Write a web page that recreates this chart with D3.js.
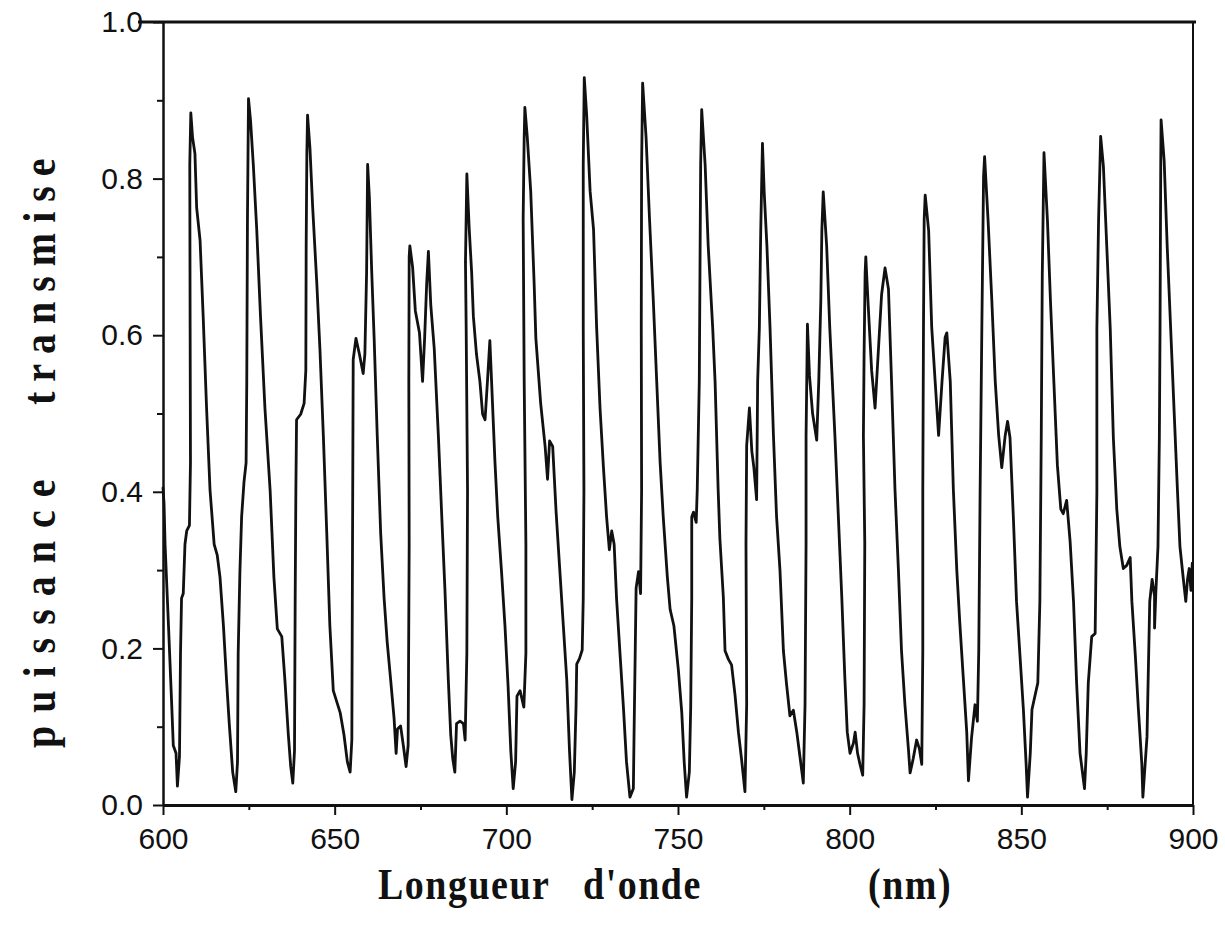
<!DOCTYPE html>
<html>
<head>
<meta charset="utf-8">
<script src="https://cdn.jsdelivr.net/npm/d3@7"></script>
<style>
  body { margin: 0; background: #fff; }
  .axis text { font-family: "Liberation Sans", Arial, sans-serif; font-size: 30px; fill: #111; }
  .title { font-family: "Liberation Serif", "Times New Roman", serif; font-weight: bold; fill: #111; }
</style>
</head>
<body>
<svg width="1225" height="926"></svg>
<script>
// spectre : longueur d'onde (nm) / puissance transmise
const wavelength = [
  600.0, 600.3, 600.6, 601.6, 602.5, 603.0, 603.8, 604.2, 604.8, 605.1, 605.4, 605.9, 606.4, 606.9, 607.7, 608.0, 607.9, 607.8, 608.1, 608.6,
  609.3, 609.8, 610.8, 611.7, 612.7, 613.7, 614.9, 615.8, 616.6, 617.6, 618.5, 619.3, 620.3, 621.2,
  621.7, 621.9, 622.4, 622.9, 623.6, 624.2, 624.4, 624.6, 624.9, 625.5, 626.3, 627.3, 628.4, 629.7, 631.2, 632.3, 633.3, 634.6, 635.5, 636.5, 637.2, 637.8,
  638.3, 638.5, 638.7, 638.9, 640.1, 641.1, 641.6, 641.7, 641.9, 642.1, 642.8, 643.6, 644.8, 645.7, 646.7, 647.7, 648.6, 649.6, 650.6, 651.6, 652.7, 653.7, 654.5,
  655.0, 655.2, 655.4, 656.2, 657.2, 658.3, 658.8, 659.3, 659.6, 660.1, 660.8, 661.5, 662.4, 663.4, 664.4, 665.3, 666.3, 667.3, 667.9, 668.3, 669.2, 670.0, 670.8,
  671.4, 671.7, 671.6, 671.7, 671.9, 672.7, 673.5, 674.7, 675.6, 676.2, 676.8, 677.3, 678.0, 679.0, 680.2, 681.2, 682.1, 683.1, 683.8, 684.4, 685.0,
  685.5, 686.5, 687.5, 688.0, 688.5, 688.7, 688.3, 688.1, 688.5, 689.2, 689.9, 690.4, 691.3, 692.3, 693.1, 693.8, 694.5, 695.2, 695.7, 696.7, 697.5, 698.6, 699.6, 700.5, 701.3, 702.0,
  702.7, 703.1, 704.0, 705.1, 705.7, 705.7, 705.2, 704.9, 705.2, 705.4, 706.1, 707.1, 708.1, 708.6, 710.0, 711.3, 712.0, 712.6, 713.5, 714.5, 715.6, 716.6, 717.6, 718.4, 719.1,
  719.8, 720.3, 720.5, 721.3, 722.1, 722.4, 722.6, 722.4, 722.4, 722.7, 723.4, 724.4, 725.4, 726.3, 727.3, 728.3, 729.2, 730.0, 730.7, 731.4, 732.1, 733.1, 734.1, 735.0, 736.0,
  737.0, 737.2, 737.8, 738.5, 739.1, 739.4, 739.3, 739.4, 739.7, 740.7, 741.7, 742.8, 743.8, 744.8, 745.7, 746.9, 747.7, 748.8, 750.1, 751.1, 751.8, 752.5,
  753.3, 753.7, 754.0, 754.0, 754.5, 755.3, 755.6, 756.2, 756.4, 756.6, 756.9, 757.9, 758.8, 760.1, 760.8, 761.7, 762.2, 763.2, 763.7, 764.7, 765.6, 766.6, 767.6, 768.5, 769.5,
  770.0, 769.8, 770.0, 770.8, 771.5, 772.1, 772.9, 773.2, 773.7, 774.1, 774.6, 775.1, 775.9, 776.8, 777.8, 778.7, 779.7, 780.7, 781.6, 782.6, 783.6, 784.6, 785.6, 786.5,
  787.0, 787.3, 787.3, 787.5, 787.7, 788.3, 789.2, 790.4, 791.0, 791.6, 791.9, 792.3, 793.3, 794.2, 795.7, 796.7, 797.7, 798.6, 799.3, 800.1, 801.1, 801.6, 802.3, 803.0, 803.8,
  804.2, 804.4, 804.0, 804.2, 804.5, 804.7, 805.4, 806.4, 807.4, 808.3, 809.3, 810.3, 811.3, 812.2, 813.2, 814.2, 815.1, 816.1, 817.1, 817.6, 818.5, 819.5, 820.3, 821.0,
  821.3, 821.3, 821.5, 821.7, 822.0, 823.0, 823.9, 824.9, 825.9, 826.9, 827.8, 828.3, 829.3, 830.2, 831.2, 832.1, 833.1, 834.1, 834.6,
  835.5, 836.5, 837.2, 837.6, 838.0, 838.5, 839.0, 839.3, 840.3, 841.4, 842.4, 843.4, 844.3, 845.3, 846.0, 846.7, 847.7, 848.6, 849.6, 850.6, 851.4, 851.8,
  852.6, 853.1, 854.1, 854.8, 855.4, 855.8, 856.1, 856.6, 857.6, 858.5, 859.5, 860.5, 861.5, 862.2, 863.2, 864.2, 865.2, 866.1, 867.1, 868.4,
  868.9, 869.5, 870.5, 871.5, 872.0, 872.0, 872.5, 873.1, 873.9, 874.9, 875.9, 876.8, 877.8, 878.7, 879.7, 880.7, 881.7, 882.2, 883.2, 884.1, 885.1, 885.4,
  886.6, 887.4, 888.1, 888.8, 888.8, 889.2, 889.8, 890.2, 890.4, 890.6, 890.7, 891.6, 892.5, 893.5, 894.5, 895.5, 896.2, 897.2, 897.9, 898.4, 898.9, 899.4, 899.8
];
const transmission = [
  0.405, 0.385, 0.333, 0.229, 0.132, 0.076, 0.066, 0.024, 0.062, 0.194, 0.264, 0.270, 0.333, 0.350, 0.357, 0.437, 0.610, 0.818, 0.884, 0.853,
  0.832, 0.763, 0.721, 0.624, 0.506, 0.402, 0.333, 0.319, 0.291, 0.229, 0.160, 0.104, 0.042, 0.017,
  0.055, 0.194, 0.298, 0.368, 0.413, 0.437, 0.541, 0.749, 0.902, 0.874, 0.818, 0.735, 0.624, 0.506, 0.402, 0.291, 0.225, 0.215, 0.160, 0.090, 0.049, 0.028,
  0.069, 0.264, 0.402, 0.492, 0.499, 0.513, 0.555, 0.714, 0.832, 0.881, 0.839, 0.763, 0.666, 0.583, 0.472, 0.347, 0.229, 0.146, 0.132, 0.118, 0.090, 0.055, 0.042,
  0.083, 0.333, 0.569, 0.596, 0.576, 0.551, 0.576, 0.680, 0.818, 0.777, 0.680, 0.596, 0.472, 0.347, 0.264, 0.208, 0.160, 0.111, 0.066, 0.097, 0.101, 0.076, 0.049,
  0.076, 0.333, 0.541, 0.700, 0.714, 0.687, 0.631, 0.603, 0.541, 0.596, 0.666, 0.707, 0.638, 0.583, 0.472, 0.368, 0.277, 0.160, 0.090, 0.059, 0.042,
  0.104, 0.107, 0.104, 0.083, 0.194, 0.402, 0.610, 0.693, 0.806, 0.735, 0.680, 0.624, 0.576, 0.541, 0.499, 0.492, 0.541, 0.593, 0.541, 0.437, 0.368, 0.298, 0.229, 0.153, 0.069, 0.021,
  0.055, 0.139, 0.146, 0.125, 0.194, 0.333, 0.541, 0.749, 0.853, 0.891, 0.853, 0.784, 0.666, 0.596, 0.513, 0.458, 0.416, 0.465, 0.458, 0.374, 0.298, 0.229, 0.160, 0.069, 0.007,
  0.042, 0.125, 0.180, 0.187, 0.198, 0.264, 0.402, 0.610, 0.818, 0.929, 0.881, 0.784, 0.735, 0.610, 0.506, 0.430, 0.368, 0.326, 0.350, 0.333, 0.264, 0.194, 0.125, 0.055, 0.010,
  0.021, 0.090, 0.277, 0.298, 0.270, 0.402, 0.610, 0.818, 0.922, 0.853, 0.749, 0.645, 0.541, 0.437, 0.368, 0.291, 0.250, 0.229, 0.173, 0.118, 0.055, 0.010,
  0.042, 0.125, 0.264, 0.368, 0.374, 0.361, 0.402, 0.541, 0.680, 0.818, 0.888, 0.818, 0.714, 0.610, 0.541, 0.402, 0.340, 0.266, 0.197, 0.186, 0.179, 0.141, 0.093, 0.059, 0.017,
  0.128, 0.334, 0.459, 0.507, 0.452, 0.431, 0.390, 0.541, 0.610, 0.734, 0.845, 0.783, 0.714, 0.610, 0.472, 0.369, 0.300, 0.197, 0.155, 0.114, 0.121, 0.093, 0.059, 0.028,
  0.128, 0.334, 0.472, 0.541, 0.614, 0.548, 0.500, 0.466, 0.541, 0.645, 0.734, 0.783, 0.714, 0.610, 0.472, 0.369, 0.266, 0.162, 0.093, 0.066, 0.079, 0.093, 0.066, 0.052, 0.038,
  0.128, 0.334, 0.472, 0.576, 0.679, 0.700, 0.638, 0.555, 0.507, 0.576, 0.652, 0.686, 0.659, 0.541, 0.403, 0.300, 0.197, 0.128, 0.072, 0.041, 0.059, 0.083, 0.072, 0.052,
  0.197, 0.403, 0.610, 0.748, 0.779, 0.734, 0.610, 0.541, 0.472, 0.541, 0.597, 0.603, 0.541, 0.403, 0.300, 0.231, 0.162, 0.093, 0.031,
  0.086, 0.128, 0.107, 0.197, 0.403, 0.610, 0.803, 0.828, 0.748, 0.645, 0.541, 0.472, 0.431, 0.472, 0.490, 0.469, 0.365, 0.260, 0.191, 0.122, 0.052, 0.010,
  0.066, 0.122, 0.142, 0.156, 0.260, 0.469, 0.677, 0.833, 0.747, 0.642, 0.538, 0.434, 0.378, 0.372, 0.389, 0.337, 0.260, 0.156, 0.066, 0.021,
  0.066, 0.156, 0.215, 0.219, 0.399, 0.608, 0.747, 0.854, 0.816, 0.712, 0.608, 0.469, 0.378, 0.330, 0.302, 0.306, 0.316, 0.260, 0.191, 0.122, 0.052, 0.010,
  0.087, 0.260, 0.288, 0.267, 0.226, 0.274, 0.330, 0.469, 0.608, 0.816, 0.875, 0.823, 0.712, 0.608, 0.503, 0.399, 0.330, 0.288, 0.260, 0.288, 0.302, 0.274, 0.309
];

const xTicks = [600, 650, 700, 750, 800, 850, 900];
const xMinorTicks = [625, 675, 725, 775, 825, 875];
const yTicks = [0, 0.2, 0.4, 0.6, 0.8, 1.0];
const yMinorTicks = [0.1, 0.3, 0.5, 0.7, 0.9];

const svg = d3.select("svg");

let xScale = d3.scaleLinear().domain([600, 900]).range([163, 1193]);
let yScale = d3.scaleLinear().domain([0, 1]).range([805, 22]);

let points = wavelength.map((w, i) => [w, transmission[i]]);

// cadre : haut et droite
svg.append("line")
  .attr("x1", 138).attr("x2", xScale(900) + 3)
  .attr("y1", yScale(1)).attr("y2", yScale(1))
  .attr("stroke", "#111").attr("stroke-width", 3);
svg.append("line")
  .attr("x1", xScale(900)).attr("x2", xScale(900))
  .attr("y1", yScale(1)).attr("y2", yScale(0))
  .attr("stroke", "#111").attr("stroke-width", 2);

// minor ticks first
svg.append("g")
  .attr("transform", `translate(0,${yScale(0)})`)
  .call(d3.axisBottom(xScale).tickValues(xMinorTicks).tickSize(5).tickFormat(""))
  .call(g => g.select(".domain").remove())
  .selectAll("line").attr("stroke", "#111").attr("stroke-width", 2);
svg.append("g")
  .attr("transform", `translate(${xScale(600)},0)`)
  .call(d3.axisLeft(yScale).tickValues(yMinorTicks).tickSize(6).tickFormat(""))
  .call(g => g.select(".domain").remove())
  .selectAll("line").attr("stroke", "#111").attr("stroke-width", 2);

let xAxis = svg.append("g")
  .attr("class", "axis")
  .attr("transform", `translate(0,${yScale(0)})`)
  .call(d3.axisBottom(xScale).tickValues(xTicks).tickSize(10).tickPadding(13).tickSizeOuter(0));
xAxis.select(".domain").attr("stroke", "#111").attr("stroke-width", 3);
xAxis.selectAll("line").attr("stroke", "#111").attr("stroke-width", 2);

let yAxis = svg.append("g")
  .attr("class", "axis")
  .attr("transform", `translate(${xScale(600)},0)`)
  .call(d3.axisLeft(yScale).tickValues(yTicks).tickSize(10).tickPadding(10)
    .tickSizeOuter(0).tickFormat(d3.format(".1f")));
yAxis.select(".domain").attr("stroke", "#111").attr("stroke-width", 2.5);
yAxis.selectAll("line").attr("stroke", "#111").attr("stroke-width", 2);

// courbe
let line = d3.line()
  .x(d => xScale(d[0]))
  .y(d => yScale(d[1]));

svg.append("path")
  .datum(points)
  .attr("d", line)
  .attr("fill", "none")
  .attr("stroke", "#111")
  .attr("stroke-width", 2.8)
  .attr("stroke-linejoin", "round")
  .attr("stroke-linecap", "round");

// titres
let xTitle = [["Longueur", 378], ["d'onde", 583], ["(nm)", 868]];
svg.selectAll("g.xtitle")
  .data(xTitle)
  .join("g")
  .attr("class", "xtitle")
  .attr("transform", d => `translate(${d[1]},899) scale(1,1.15)`)
  .append("text")
  .attr("class", "title")
  .style("font-size", "38px")
  .style("letter-spacing", "1.5px")
  .text(d => d[0]);

let yTitle = [["puissance", 748, 13], ["transmise", 405, 10]];
svg.selectAll("g.ytitle")
  .data(yTitle)
  .join("g")
  .attr("class", "ytitle")
  .attr("transform", d => `translate(55,${d[1]}) rotate(-90) scale(1,1.15)`)
  .append("text")
  .attr("class", "title")
  .style("font-size", "40px")
  .style("letter-spacing", d => d[2] + "px")
  .text(d => d[0]);
</script>
</body>
</html>
